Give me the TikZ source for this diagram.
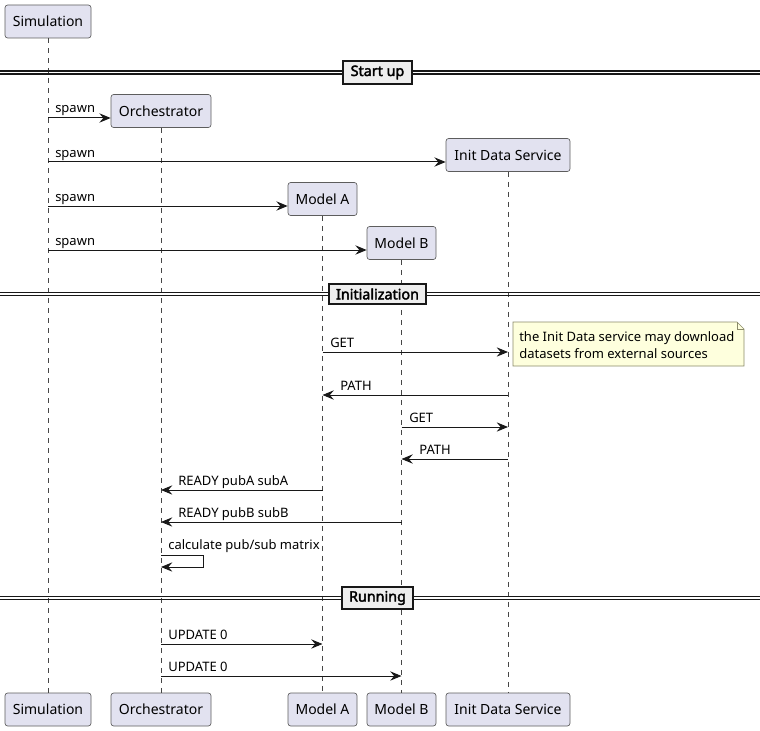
\documentclass[tikz,border=0pt]{standalone}
\usepackage{fontspec}
\setmainfont{Noto Sans}
\newfontfamily\sepfont{Noto Sans}[FakeBold=2.5]
\usetikzlibrary{arrows.meta,positioning,calc}
\definecolor{Part}{HTML}{E2E2F0}
\definecolor{Edge}{HTML}{181818}
\definecolor{NoteBg}{HTML}{FEFFDD}
\definecolor{NoteEdge}{HTML}{8A8A6A}
\definecolor{SepBg}{HTML}{EEEEEE}

\begin{document}
\begin{tikzpicture}[x=0.75pt,y=-0.75pt,
    part/.style={draw=Edge!70,line width=0.5pt,fill=Part,rounded corners=2pt,minimum height=24.75pt,
      inner xsep=4pt,font=\fontsize{10.5}{12}\selectfont},
    life/.style={draw=Edge!80,line width=0.5pt,dash pattern=on 3.75pt off 3.75pt},
    msg/.style={-{Stealth[length=8.5pt,width=7pt,inset=3pt]},draw=Edge,line width=0.75pt},
    lbl/.style={font=\fontsize{9.75}{11}\selectfont,inner sep=0pt,anchor=base west},
    sep/.style={draw=Edge,line width=1.5pt,fill=SepBg,font=\sepfont\fontsize{10.75}{12}\selectfont,
      inner xsep=5.5pt,minimum height=15.5pt},
    dbl/.style={draw=Edge,line width=0.8pt}]
  \useasboundingbox (0,0) rectangle (760,731);

  % participants, top and bottom
  \node[part,minimum width=64.5pt] (sim) at (48,21.5) {Simulation};
  \node[part,minimum width=75pt] (orch) at (161,111) {Orchestrator};
  \node[part,minimum width=93pt] (init) at (508,155) {Init Data Service};
  \node[part,minimum width=51.75pt] (ma) at (322.5,199) {Model A};
  \node[part,minimum width=51.75pt] (mb) at (401.5,243) {Model B};

  \node[part,minimum width=64.5pt] (simB) at (48,709.5) {Simulation};
  \node[part,minimum width=75pt] (orchB) at (161,709.5) {Orchestrator};
  \node[part,minimum width=51.75pt] (maB) at (322.5,709.5) {Model A};
  \node[part,minimum width=51.75pt] (mbB) at (401.5,709.5) {Model B};
  \node[part,minimum width=93pt] (initB) at (508,709.5) {Init Data Service};

  % lifelines
  \foreach \a/\b in {sim/simB,orch/orchB,ma/maB,mb/mbB,init/initB}
    \draw[life] (\a.south) -- (\b.north);

  % dividers
  \foreach \y/\n/\t in {72.5/sepStart/Start up,294/sepInit/Initialization,598/sepRun/Running}{
    \draw[dbl] (0,\y-1.5) -- (760,\y-1.5);
    \draw[dbl] (0,\y+1.5) -- (760,\y+1.5);
    \node[sep] (\n) at (377.5,\y) {\t};
  }

  % start up
  \draw[msg] (sim |- 0,118) -- (orch.west |- 0,118);
  \node[lbl] (l1) at (55,113) {spawn};
  \draw[msg] (sim |- 0,162) -- (init.west |- 0,162);
  \node[lbl] (l2) at (55,157) {spawn};
  \draw[msg] (sim |- 0,206) -- (ma.west |- 0,206);
  \node[lbl] (l3) at (55,201) {spawn};
  \draw[msg] (sim |- 0,250) -- (mb.west |- 0,250);
  \node[lbl] (l4) at (55,245) {spawn};

  % initialization
  \draw[msg] (ma |- 0,352) -- (init |- 0,352);
  \node[lbl] (l5) at (330,347) {GET};
  \draw[fill=NoteBg,draw=NoteEdge,line width=0.5pt]
    (513,322) -- (737,322) -- (744,329) -- (744,366) -- (513,366) -- cycle;
  \draw[draw=NoteEdge,line width=0.5pt] (737,322) -- (737,329) -- (744,329);
  \node[lbl,anchor=north west,align=left,font=\fontsize{9.75}{12.75}\selectfont] (note) at (519,331)
    {the Init Data service may download\\datasets from external sources};
  \draw[msg] (init |- 0,395) -- (ma |- 0,395);
  \node[lbl] (l6) at (340,390) {PATH};
  \draw[msg] (mb |- 0,427) -- (init |- 0,427);
  \node[lbl] (l7) at (409,422) {GET};
  \draw[msg] (init |- 0,459) -- (mb |- 0,459);
  \node[lbl] (l8) at (419,454) {PATH};
  \draw[msg] (ma |- 0,490) -- (orch |- 0,490);
  \node[lbl] (l9) at (178,485) {READY pubA subA};
  \draw[msg] (mb |- 0,522) -- (orch |- 0,522);
  \node[lbl] (l10) at (178,517) {READY pubB subB};
  \draw[msg] (orch |- 0,555) -- (203,555) -- (203,567) -- (orch |- 0,567);
  \node[lbl] (l11) at (168,549) {calculate pub/sub matrix};

  % running
  \draw[msg] (orch |- 0,644) -- (ma |- 0,644);
  \node[lbl] (l12) at (168,639) {UPDATE 0};
  \draw[msg] (orch |- 0,676) -- (mb |- 0,676);
  \node[lbl] (l13) at (168,671) {UPDATE 0};
\end{tikzpicture}
\end{document}
